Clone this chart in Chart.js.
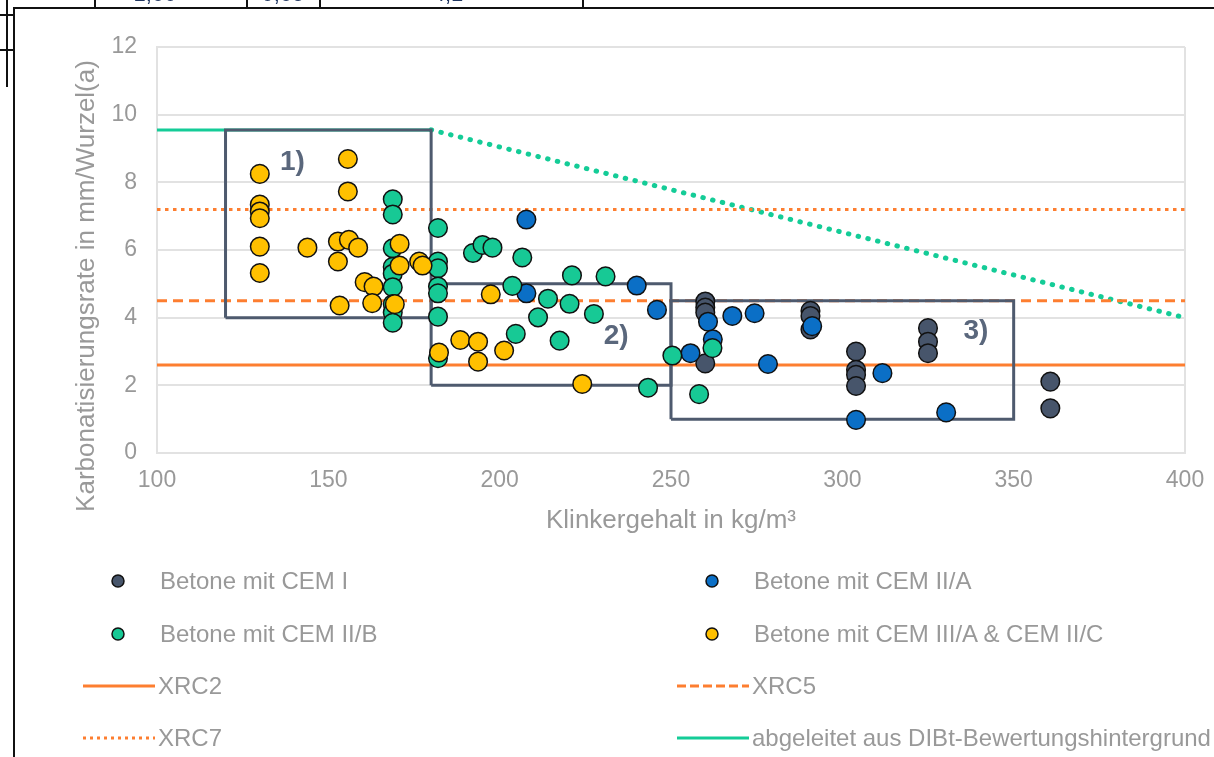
<!DOCTYPE html>
<html>
<head>
<meta charset="utf-8">
<script src="https://cdn.jsdelivr.net/npm/chart.js@4.4.0/dist/chart.umd.min.js"></script>
<style>
  body { margin: 0; background: #fff; }
  #page { position: relative; width: 1214px; height: 757px; overflow: hidden; font-family: "Liberation Sans", Arial, sans-serif; }
  #chart { position: absolute; left: 0; top: 0; }
  .rule { position: absolute; background: #111; }
  .cell { position: absolute; top: 0; height: 7px; overflow: hidden; width: 120px; text-align: center; }
  .cell span { position: relative; top: -17px; font-size: 22px; line-height: 22px; color: #1f3560; }
  #legend { position: absolute; left: 0; top: 0; width: 1214px; height: 757px; pointer-events: none; }
  .item { position: absolute; font-size: 24px; color: #999; line-height: 28px; white-space: nowrap; }
</style>
</head>
<body>
<div id="page">
  <canvas id="chart" width="1214" height="757"></canvas>

  <!-- Reste der Seite/Tabelle darüber -->
  <div class="rule" style="left:13px; top:7px; width:1201px; height:2px"></div>
  <div class="rule" style="left:13px; top:7px; width:2px; height:750px"></div>
  <div class="rule" style="left:6px; top:0; width:1.5px; height:87px"></div>
  <div class="rule" style="left:0; top:14px; width:14px; height:1.5px"></div>
  <div class="rule" style="left:0; top:49px; width:14px; height:1.5px"></div>
  <div class="rule" style="left:94px; top:0; width:1.5px; height:8px"></div>
  <div class="rule" style="left:246px; top:0; width:1.5px; height:8px"></div>
  <div class="rule" style="left:319px; top:0; width:1.5px; height:8px"></div>
  <div class="rule" style="left:582px; top:0; width:1.5px; height:8px"></div>
  <div class="cell" style="left:95px"><span>1,00</span></div>
  <div class="cell" style="left:223px"><span>0,05</span></div>
  <div class="cell" style="left:388px"><span>4,1</span></div>

  <div id="legend"></div>
</div>

<script>
// Karbonatisierungsrate über Klinkergehalt

// Betone mit CEM I
const cem1X = [260, 260, 260, 260, 290.7, 290.7, 290.7, 304, 304, 304, 304, 325, 325, 325, 360.7, 360.7];
const cem1Y = [4.48, 4.3, 4.15, 2.65, 4.2, 4.05, 3.65, 3.0, 2.46, 2.31, 1.98, 3.69, 3.29, 2.95, 2.11, 1.32];

// Betone mit CEM II/A
const cem2aX = [207.8, 207.8, 240, 245.9, 255.7, 260.8, 262.2, 267.9, 274.4, 278.3, 291.2, 304, 311.7, 330.3];
const cem2aY = [6.9, 4.72, 4.95, 4.23, 2.95, 3.88, 3.36, 4.05, 4.13, 2.63, 3.75, 0.98, 2.36, 1.2];

// Betone mit CEM II/B
const cem2bX = [168.8, 168.8, 168.8, 168.8, 168.8, 168.8, 168.8, 168.8, 168.8,
                182, 182, 182, 182, 182, 182, 182,
                192.2, 195, 197.9, 206.6, 203.7, 214.1, 211.2, 204.7, 217.5, 221.1, 230.9, 220.4, 227.5,
                243.3, 250.4, 262.1, 258.2];
const cem2bY = [7.5, 7.05, 6.05, 5.5, 5.3, 4.9, 4.4, 4.15, 3.85,
                6.65, 5.66, 5.46, 4.92, 4.72, 4.03, 2.8,
                5.91, 6.15, 6.07, 5.78, 4.94, 4.56, 4.01, 3.52, 3.32, 5.25, 5.22, 4.41, 4.11,
                1.93, 2.88, 3.1, 1.74];

// Betone mit CEM III/A & CEM II/C
const cem3X = [130, 130, 130, 130, 130, 130, 143.9, 155.7, 155.7, 152.8, 156, 158.7, 152.8, 160.6, 163.2, 162.8, 153.3,
               170.8, 170.8, 169.4, 176.5, 177.5, 182.3, 188.5, 193.7, 193.7, 197.4, 201.3, 224.1];
const cem3Y = [8.25, 7.34, 7.14, 6.94, 6.1, 5.32, 6.07, 8.69, 7.73, 6.25, 6.3, 6.07, 5.66, 5.05, 4.92, 4.43, 4.36,
               6.18, 5.54, 4.4, 5.66, 5.54, 2.97, 3.34, 3.29, 2.7, 4.69, 3.03, 2.04];

// Grenzwerte
const xMin = 100, xMax = 400;
const xrc2 = 2.6, xrc5 = 4.5, xrc7 = 7.2;
const dibtX = [100, 180, 400];
const dibtY = [9.55, 9.55, 4.0];

// Bereiche 1) 2) 3)
const boxLabels = ["1)", "2)", "3)"];
const boxX1 = [120, 180, 250];
const boxX2 = [180, 250, 350];
const boxY1 = [4.0, 2.0, 1.0];
const boxY2 = [9.55, 5.0, 4.5];
const boxLabelX = [139.5, 234, 339];
const boxLabelY = [8.6, 3.45, 3.6];

const xTicks = [100, 150, 200, 250, 300, 350, 400];
const yTicks = [0, 2, 4, 6, 8, 10, 12];

const grey = "#999";
const boxColor = "#4e5a6e";
const orange = "#fd7e30";
const green = "#14cc97";

const pts = (xs, ys) => xs.map((x, i) => ({ x: x, y: ys[i] }));

function scatterSet(label, xs, ys, color, order) {
    return {
        label: label,
        data: pts(xs, ys),
        backgroundColor: color,
        borderColor: "#111",
        borderWidth: 1.5,
        pointRadius: 9.3,
        pointHoverRadius: 9.3,
        order: order
    };
}

function lineSet(label, data, color, width, dash, cap, order) {
    return {
        label: label,
        data: data,
        showLine: true,
        borderColor: color,
        backgroundColor: color,
        borderWidth: width,
        borderDash: dash,
        borderCapStyle: cap,
        pointRadius: 0,
        pointHoverRadius: 0,
        fill: false,
        tension: 0,
        order: order
    };
}

const datasets = [
    scatterSet("Betone mit CEM III/A & CEM II/C", cem3X, cem3Y, "#ffc000", 1),
    scatterSet("Betone mit CEM II/B", cem2bX, cem2bY, "#17c995", 2),
    scatterSet("Betone mit CEM II/A", cem2aX, cem2aY, "#0b6fc6", 3),
    scatterSet("Betone mit CEM I", cem1X, cem1Y, "#47556b", 4)
];

// Rahmen
boxLabels.forEach((lab, i) => {
    const rect = [
        { x: boxX1[i], y: boxY1[i] }, { x: boxX2[i], y: boxY1[i] },
        { x: boxX2[i], y: boxY2[i] }, { x: boxX1[i], y: boxY2[i] },
        { x: boxX1[i], y: boxY1[i] }
    ];
    datasets.push(lineSet("Bereich " + lab, rect, boxColor, 3, [], "butt", 5));
});

datasets.push(lineSet("XRC2", [{ x: xMin, y: xrc2 }, { x: xMax, y: xrc2 }], orange, 3, [], "butt", 6));
datasets.push(lineSet("XRC5", [{ x: xMin, y: xrc5 }, { x: xMax, y: xrc5 }], orange, 3, [10, 6], "butt", 6));
datasets.push(lineSet("XRC7", [{ x: xMin, y: xrc7 }, { x: xMax, y: xrc7 }], orange, 3, [3.5, 4.5], "butt", 6));
datasets.push(lineSet("DIBt", pts(dibtX.slice(0, 2), dibtY.slice(0, 2)), green, 3, [], "butt", 6));
datasets.push(lineSet("DIBt Trend", pts(dibtX.slice(1), dibtY.slice(1)), green, 5, [0.5, 9.5], "round", 6));

// Achsentitel und Bereichsnummern
const extraText = {
    id: "extraText",
    afterDatasetsDraw(chart) {
        const ctx = chart.ctx;
        const xs = chart.scales.x, ys = chart.scales.y;
        ctx.save();
        ctx.fillStyle = "#5a677c";
        ctx.font = "bold 28px 'Liberation Sans', Arial, sans-serif";
        ctx.textAlign = "center";
        ctx.textBaseline = "middle";
        boxLabels.forEach((lab, i) => {
            ctx.fillText(lab, xs.getPixelForValue(boxLabelX[i]), ys.getPixelForValue(boxLabelY[i]));
        });
        ctx.restore();
    },
    afterDraw(chart) {
        const ctx = chart.ctx;
        const area = chart.chartArea;
        ctx.save();
        ctx.fillStyle = grey;
        ctx.font = "26px 'Liberation Sans', Arial, sans-serif";
        ctx.textAlign = "center";
        ctx.textBaseline = "middle";
        ctx.fillText("Klinkergehalt in kg/m³", (area.left + area.right) / 2, 521);
        ctx.translate(87, 286);
        ctx.rotate(-Math.PI / 2);
        ctx.fillText("Karbonatisierungsrate in mm/Wurzel(a)", 0, 0);
        ctx.restore();
    }
};

const gridColor = "#e2e2e2";
const tickFont = { family: "'Liberation Sans', Arial, sans-serif", size: 23 };

new Chart(document.getElementById("chart"), {
    type: "scatter",
    data: { datasets: datasets },
    options: {
        responsive: false,
        animation: false,
        layout: { padding: { left: 0, right: 29, top: 47, bottom: 0 } },
        plugins: {
            legend: { display: false },
            tooltip: { enabled: false }
        },
        scales: {
            x: {
                type: "linear",
                min: xMin,
                max: xMax,
                afterBuildTicks: (scale) => { scale.ticks = xTicks.map(v => ({ value: v })); },
                afterFit: (scale) => {
                    scale.height = 304;
                    scale.paddingLeft = 0;
                    scale.paddingRight = 0;
                },
                ticks: { color: grey, font: tickFont, padding: 14 },
                grid: {
                    drawTicks: false,
                    lineWidth: 2,
                    color: (c) => (c.tick && c.tick.value === xMax) ? gridColor : "rgba(0,0,0,0)"
                },
                border: { color: gridColor, width: 2 }
            },
            y: {
                type: "linear",
                min: 0,
                max: 12,
                afterBuildTicks: (scale) => { scale.ticks = yTicks.map(v => ({ value: v })); },
                afterFit: (scale) => { scale.width = 157; },
                ticks: { color: grey, font: tickFont, padding: 20 },
                grid: { drawTicks: false, lineWidth: 2, color: gridColor },
                border: { color: gridColor, width: 2 }
            }
        }
    },
    plugins: [extraText]
});

// Legende (zwei Spalten wie im Original)
const legendItems = [
    { kind: "point", color: "#47556b", text: "Betone mit CEM I" },
    { kind: "point", color: "#0b6fc6", text: "Betone mit CEM II/A" },
    { kind: "point", color: "#17c995", text: "Betone mit CEM II/B" },
    { kind: "point", color: "#ffc000", text: "Betone mit CEM III/A & CEM II/C" },
    { kind: "line", color: orange, dash: "solid", text: "XRC2" },
    { kind: "line", color: orange, dash: "dashed", text: "XRC5" },
    { kind: "line", color: orange, dash: "dotted", text: "XRC7" },
    { kind: "line", color: green, dash: "solid", text: "abgeleitet aus DIBt-Bewertungshintergrund" }
];
const rowY = [581, 634, 686, 738];
const colX = [0, 594];

const legend = document.getElementById("legend");
legendItems.forEach((it, i) => {
    const cx = colX[i % 2];
    const cy = rowY[Math.floor(i / 2)];
    let sample;
    if (it.kind === "point") {
        sample = `<svg style="position:absolute;left:${cx + 109}px;top:${cy - 9}px" width="18" height="18">
            <circle cx="9" cy="9" r="6" fill="${it.color}" stroke="#111" stroke-width="1.5"/></svg>`;
    } else {
        const da = it.dash === "dashed" ? 'stroke-dasharray="9,4"' : it.dash === "dotted" ? 'stroke-dasharray="3,4"' : "";
        sample = `<svg style="position:absolute;left:${cx + 83}px;top:${cy - 5}px" width="72" height="10">
            <line x1="0" y1="5" x2="72" y2="5" stroke="${it.color}" stroke-width="3" ${da}/></svg>`;
    }
    const tx = it.kind === "point" ? cx + 160 : cx + 158;
    legend.insertAdjacentHTML("beforeend", sample +
        `<div class="item" style="left:${tx}px;top:${cy - 14}px">${it.text}</div>`);
});
</script>
</body>
</html>
